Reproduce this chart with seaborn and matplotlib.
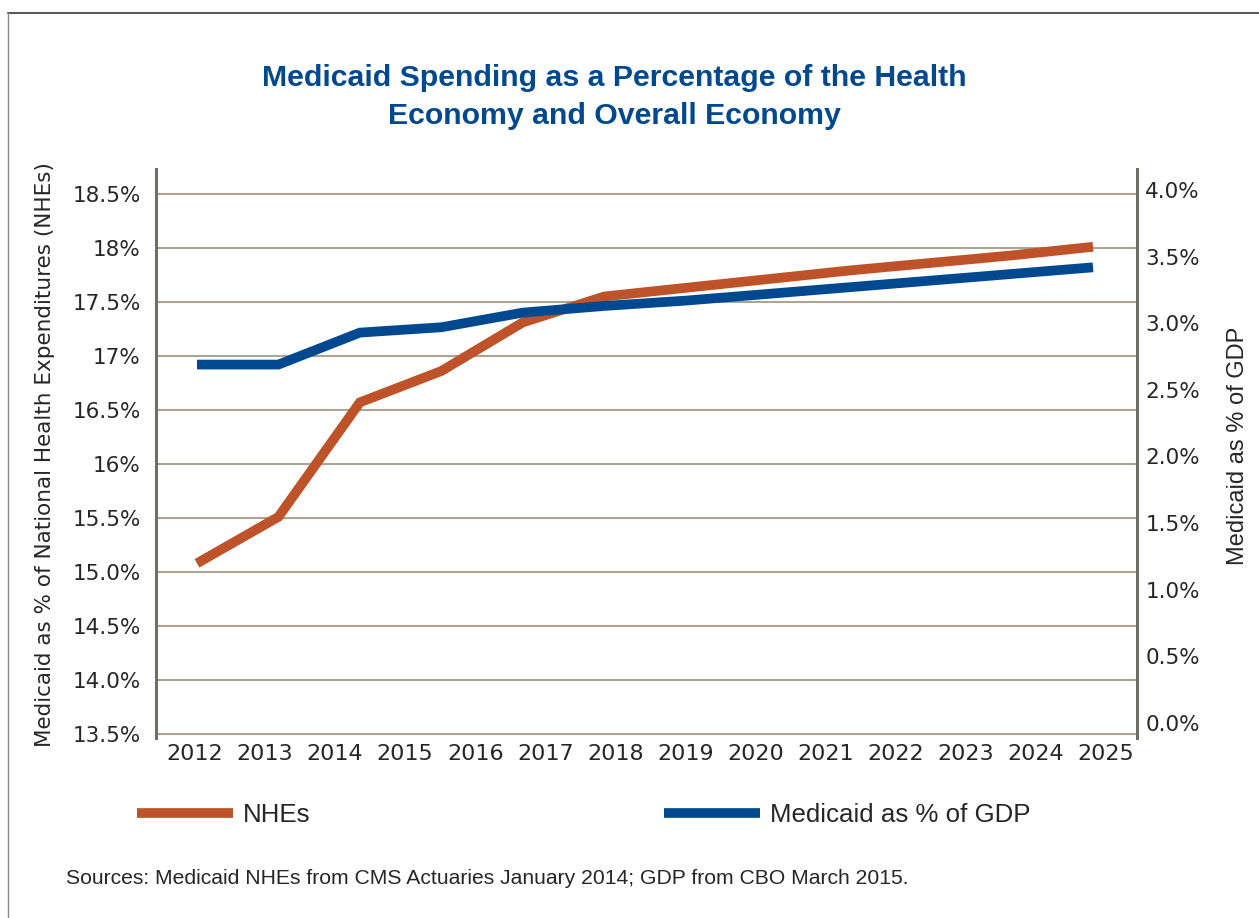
import numpy as np
import pandas as pd
import seaborn as sns
import matplotlib.pyplot as plt
from matplotlib.lines import Line2D

# data
years = list(range(2012, 2024))
nhe_share = [15.08, 15.51, 16.57, 16.86, 17.31, 17.55, 17.63, 17.71, 17.79, 17.86, 17.93, 18.01]  # % of NHEs
gdp_share = [2.69, 2.69, 2.93, 2.97, 3.08, 3.13, 3.17, 3.22, 3.27, 3.32, 3.37, 3.42]  # % of GDP
axis_years = list(range(2012, 2026))
left_ticks = [13.5, 14.0, 14.5, 15.0, 15.5, 16.0, 16.5, 17.0, 17.5, 18.0, 18.5]
left_labels = ["13.5%", "14.0%", "14.5%", "15.0%", "15.5%", "16%", "16.5%", "17%", "17.5%", "18%", "18.5%"]
right_ticks = [0.0, 0.5, 1.0, 1.5, 2.0, 2.5, 3.0, 3.5, 4.0]
right_labels = ["0.0%", "0.5%", "1.0%", "1.5%", "2.0%", "2.5%", "3.0%", "3.5%", "4.0%"]

df = pd.DataFrame({"year": years, "NHEs": nhe_share, "GDP": gdp_share})

ORANGE = "#BE5229"
BLUE = "#004990"
GRID = "#A9A692"
SPINE = "#6E6E64"
TXT = "#262626"
LIB = ['Liberation Sans', 'DejaVu Sans']

sns.set_style("white")
plt.rcParams['font.family'] = ['DejaVu Sans']

fig = plt.figure(figsize=(12.59, 9.18), dpi=100)
ax = fig.add_axes([156/1259, 1-738/918, 981/1259, 569/918])

sns.lineplot(data=df, x="year", y="NHEs", ax=ax, color=ORANGE, lw=7,
             solid_capstyle='butt', solid_joinstyle='miter', legend=False)
ax2 = ax.twinx()
sns.lineplot(data=df, x="year", y="GDP", ax=ax2, color=BLUE, lw=7,
             solid_capstyle='butt', solid_joinstyle='miter', legend=False)

ax.set_xlim(2011.497, 2023.54)
ax.set_ylim(13.463, 18.73)
ax2.set_ylim(-0.113, 4.158)

ax.set_yticks(left_ticks, left_labels)
ax2.set_yticks(right_ticks, right_labels)
ax.set_xticks([])
ax.grid(axis='y', color=GRID, lw=1.5)
ax.set_xlabel("")
ax.set_ylabel("")
ax2.set_ylabel("")
ax.tick_params(axis='y', length=0, pad=11, labelsize=15.5, labelcolor=TXT)
ax2.tick_params(axis='y', length=0, pad=6, labelsize=15.5, labelcolor=TXT)

# year labels on their own scale
ax3 = ax.twiny()
ax3.set_xlim(2011.444, 2025.44)
ax3.set_xticks(axis_years, [str(y) for y in axis_years])
ax3.xaxis.set_ticks_position('bottom')
ax3.tick_params(axis='x', length=0, pad=4, labelsize=16, labelcolor=TXT)

for a in (ax, ax2, ax3):
    for s in a.spines.values():
        s.set_visible(False)
ax.spines['left'].set_visible(True)
ax.spines['left'].set_color(SPINE)
ax.spines['left'].set_linewidth(2.2)
ax2.spines['right'].set_visible(True)
ax2.spines['right'].set_color(SPINE)
ax2.spines['right'].set_linewidth(2.2)

fig.text(45/1259, 1-455/918, "Medicaid as % of National Health Expenditures (NHEs)",
         rotation=90, ha='center', va='center', fontsize=15.5, color=TXT)
fig.text(1238/1259, 1-446/918, "Medicaid as % of GDP", family=LIB,
         rotation=90, ha='center', va='center', fontsize=17, color=TXT)

fig.text(614/1259, 1-97/918, "Medicaid Spending as a Percentage of the Health\nEconomy and Overall Economy",
         ha='center', va='center', fontsize=21.8, fontweight='bold', color=BLUE,
         family=LIB, linespacing=1.45)

handles = [ax.lines[0], ax2.lines[0]]
fig.legend(handles, ["NHEs", "Medicaid as % of GDP"], loc='center left',
           bbox_to_anchor=(137/1259, 1-815/918), ncol=2, frameon=False,
           borderpad=0, borderaxespad=0, handlelength=3.7, handletextpad=0.4,
           columnspacing=13.7, prop={'family': LIB, 'size': 18.6},
           labelcolor=TXT)

fig.text(66/1259, 1-879/918, "Sources: Medicaid NHEs from CMS Actuaries January 2014; GDP from CBO March 2015.",
         ha='left', va='center', fontsize=15.2, color=TXT, family=LIB)

# outer frame
fig.add_artist(Line2D([8/1259, 1.0], [1-13/918, 1-13/918], transform=fig.transFigure, color='#5A5A5A', lw=1.5))
fig.add_artist(Line2D([8/1259, 8/1259], [0.0, 1-13/918], transform=fig.transFigure, color='#8A8A8A', lw=1.0))

fig.savefig("out.png", dpi=100, facecolor='white')
